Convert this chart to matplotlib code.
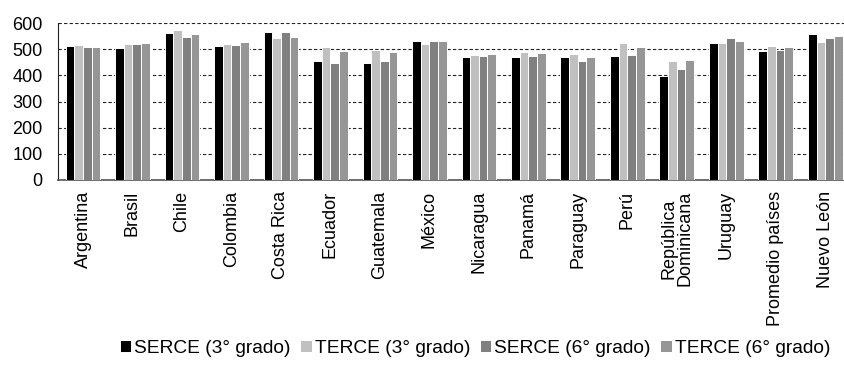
import numpy as np
import matplotlib.pyplot as plt

countries = ["Argentina", "Brasil", "Chile", "Colombia", "Costa Rica", "Ecuador",
             "Guatemala", "México", "Nicaragua", "Panamá", "Paraguay", "Perú",
             "República\nDominicana", "Uruguay", "Promedio países", "Nuevo León"]

serce_3 = [511, 503, 562, 511, 564, 453, 448, 530, 470, 469, 470, 474, 396, 524, 492, 557]
terce_3 = [515, 520, 573, 521, 544, 508, 495, 520, 478, 490, 481, 522, 455, 525, 511, 529]
serce_6 = [508, 521, 546, 516, 564, 448, 453, 530, 473, 473, 456, 476, 423, 542, 495, 542]
terce_6 = [509, 525, 558, 526, 546, 492, 489, 530, 480, 484, 469, 507, 457, 532, 508, 549]

series = [serce_3, terce_3, serce_6, terce_6]
labels = ["SERCE (3° grado)", "TERCE (3° grado)", "SERCE (6° grado)", "TERCE (6° grado)"]
colors = ["#000000", "#c0c0c0", "#808080", "#969696"]

plt.rcParams['font.family'] = ['Liberation Sans', 'DejaVu Sans']

fig = plt.figure(figsize=(8.45, 3.65), dpi=100)
ax = fig.add_axes([58 / 845, 1 - 180 / 365, 787 / 845, 157 / 365])

x = np.arange(len(countries))
w = 0.175
for i, (vals, lab, col) in enumerate(zip(series, labels, colors)):
    ax.bar(x + (i - 1.5) * w, vals, w, color=col, edgecolor="white", linewidth=0.7, label=lab, zorder=3)

ax.set_ylim(0, 600)
ax.set_yticks(range(0, 601, 100))
ax.set_xlim(-0.505, 15.4)
ax.set_xticks(x)
ax.set_xticklabels(countries, rotation=90, fontsize=13, ha="center", va="top", linespacing=0.95)
ax.tick_params(axis="y", labelsize=13, length=0, pad=11)
ax.tick_params(axis="x", length=0, pad=8)
ax.yaxis.grid(True, linestyle=(0, (3, 2)), color="#222222", linewidth=0.8, zorder=0)

for s in ["top", "right"]:
    ax.spines[s].set_visible(False)
ax.spines["left"].set_color("#222222")
ax.spines["left"].set_linewidth(0.8)
ax.spines["bottom"].set_color("#555555")
ax.spines["bottom"].set_linewidth(1.2)

fig.legend(loc="lower center", bbox_to_anchor=(0.562, -0.025), ncol=4, frameon=False,
           fontsize=13.8, handlelength=0.6, handleheight=0.6, handletextpad=0.15, columnspacing=0.5)

fig.savefig("out.png", dpi=100)
